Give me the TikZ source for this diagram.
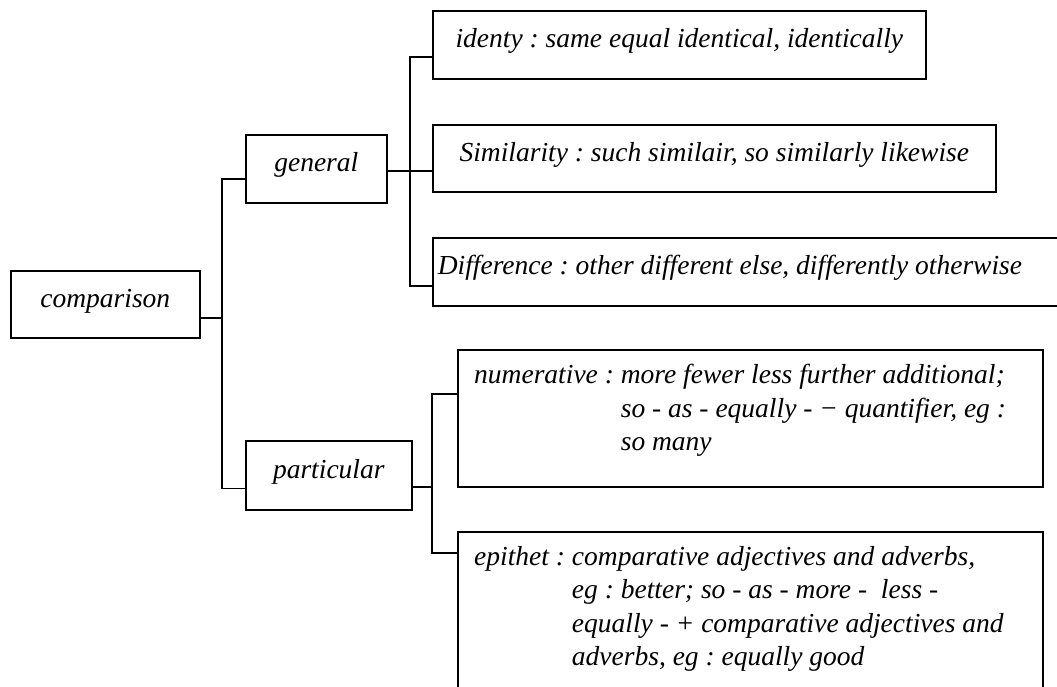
\documentclass[tikz,border=0pt]{standalone}
\usepackage{fontspec}
\setmainfont{Liberation Serif}
\frenchspacing
\tikzset{
  leaf/.style={draw, line width=1.6pt, anchor=north west, inner sep=0pt, text height=20pt, text depth=14pt},
  lines/.style={anchor=north west, inner sep=0pt, align=left},
  link/.style={line width=1.6pt}
}
\begin{document}
\begin{tikzpicture}[x=1pt, y=-1pt, font=\fontsize{27.5}{33.5}\selectfont\itshape]
            \useasboundingbox (0, 0) rectangle (1057, 686);

            %%boxes
            \node[leaf, minimum width=189, minimum height=67](cmp) at(10, 270){comparison};
            \node[leaf, minimum width=141, minimum height=68](gen) at(245, 134){general};
            \node[leaf, minimum width=166, minimum height=69](part) at(245, 440){particular};

            \node[leaf, minimum width=493, minimum height=68](iden) at(432, 10){identy : same equal identical, identically};
            \node[leaf, minimum width=563, minimum height=67](simi) at(432, 124){Similarity : such similair, so similarly likewise};
            \node[leaf, text width=620, align=flush left, inner xsep=5, minimum height=68](diff) at(432, 237){Difference : other different else, differently otherwise};

            \node[leaf, minimum width=585, minimum height=137](num) at(457, 349){};
            \node[lines](numtxt) at([xshift=17pt, yshift=-15pt]num.north west){numerative : more fewer less further additional;\\\phantom{numerative : }so - as - equally - − quantifier, eg :\\\phantom{numerative : }so many};
            \node[leaf, minimum width=585, minimum height=180](epi) at(457, 531){};
            \node[lines](epitxt) at([xshift=17pt, yshift=-15pt]epi.north west){epithet : comparative adjectives and adverbs,\\\phantom{epithet : }eg : better; so - as - more - \ less -\\\phantom{epithet : }equally - + comparative adjectives and\\\phantom{epithet : }adverbs, eg : equally good};

            %%links
            \coordinate(ja) at(222, 318);
            \coordinate(jb) at(410, 171);
            \coordinate(jc) at(432, 487);

            \draw[link](cmp.east |- ja) to (ja);
            \draw[link]([yshift=-10pt]gen.west) -| (ja) |- ([yshift=-13pt]part.west);

            \draw[link](gen.east |- jb) to (jb);
            \draw[link]([yshift=-12pt]iden.west) -| (jb) |- ([yshift=-14pt]diff.west);
            \draw[link](jb) to (jb -| simi.west);

            \draw[link](part.east |- jc) to (jc);
            \draw[link]([yshift=-45pt]num.north west) -| (jc) |- ([yshift=-22pt]epi.north west);
        \end{tikzpicture}
\end{document}
